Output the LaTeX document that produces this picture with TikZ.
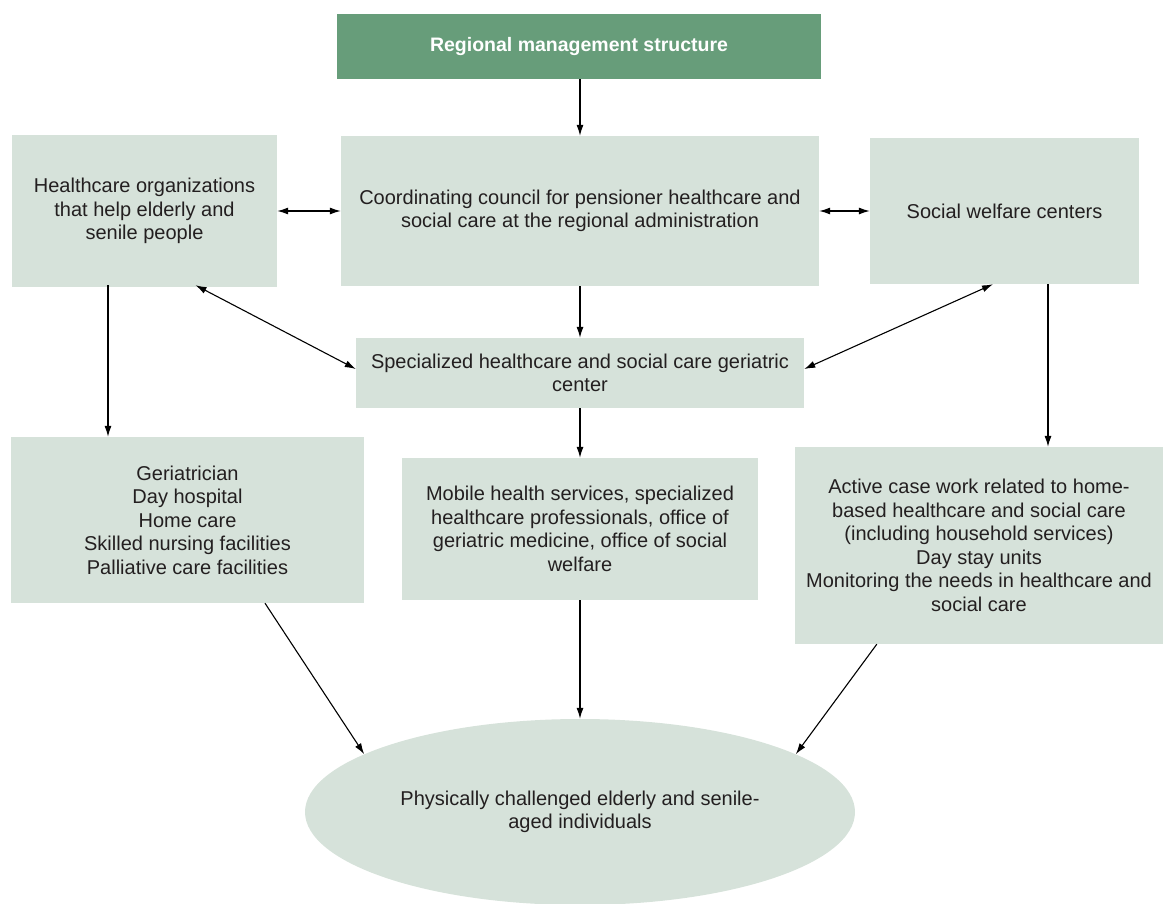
\documentclass[tikz,border=0pt]{standalone}
\usepackage{fontspec}
\setmainfont{Liberation Sans}
\usetikzlibrary{shapes.geometric, arrows.meta, calc}
\definecolor{headgreen}{RGB}{103,157,122}
\definecolor{boxgreen}{RGB}{214,226,218}
\definecolor{inkgray}{RGB}{35,31,32}
\begin{document}
\begin{tikzpicture}[x=1pt, y=-1pt, >={Latex[length=11pt, width=7pt]}]
    \tikzstyle{head} = [rectangle, minimum width=484, minimum height=65, inner sep=0pt, fill=headgreen, text=white, font=\bfseries\fontsize{19.5}{23}\selectfont]
    \tikzstyle{unit} = [rectangle, inner sep=0pt, fill=boxgreen, text=inkgray, align=center, font=\fontsize{20}{23.5}\selectfont]
    \tikzstyle{people} = [ellipse, inner sep=0pt, minimum width=550, minimum height=186, fill=boxgreen, text=inkgray, align=center, font=\fontsize{20}{23.5}\selectfont]
    \tikzstyle{link} = [line width=1.1pt, draw=black]

    \useasboundingbox (0,0) rectangle (1164,903);

    % Management level
    \node [head] (head) at (579,46.5) {Regional management structure};
    \node [unit, minimum width=478, minimum height=150] (council) at (580,211) {Coordinating council for pensioner healthcare and\\social care at the regional administration};
    \node [unit, minimum width=265, minimum height=152] (hospitals) at (144.5,211) {Healthcare organizations\\that help elderly and\\senile people};
    \node [unit, minimum width=269, minimum height=146] (welfare) at (1004.5,211) {Social welfare centers};

    % Geriatric center
    \node [unit, minimum width=448, minimum height=70] (geriatric) at (580,373) {Specialized healthcare and social care geriatric\\center};

    % Services
    \node [unit, minimum width=353, minimum height=166] (services) at (187.5,520) {Geriatrician\\Day hospital\\Home care\\Skilled nursing facilities\\Palliative care facilities};
    \node [unit, minimum width=356, minimum height=142] (mobile) at (580,529) {Mobile health services, specialized\\healthcare professionals, office of\\geriatric medicine, office of social\\welfare};
    \node [unit, minimum width=368, minimum height=197] (casework) at (979,545.5) {Active case work related to home-\\based healthcare and social care\\(including household services)\\Day stay units\\Monitoring the needs in healthcare and\\social care};

    % Target group
    \node [people] (patients) at (580,812) {Physically challenged elderly and senile-\\aged individuals};

    % Connections
    \draw [link, ->] ([xshift=1pt]head.south) -- ([xshift=1pt]head.south |- council.north);
    \draw [link, <->] (hospitals.east) -- (council.west);
    \draw [link, <->] (council.east) -- (welfare.west);
    \draw [link, ->] (council.south) -- (geriatric.north);
    \draw [link, <->] ([xshift=51pt, yshift=2pt]hospitals.south) -- ([yshift=4pt]geriatric.west);
    \draw [link, <->] ([xshift=-11.5pt]welfare.south) -- ([yshift=4pt]geriatric.east);

    \draw [link, ->] ([xshift=-36.5pt, yshift=2pt]hospitals.south) -- ([xshift=-36.5pt]hospitals.south |- services.north);
    \draw [link, ->] (geriatric.south) -- (mobile.north);
    \draw [link, ->] ([xshift=43.5pt]welfare.south) -- ([xshift=43.5pt]welfare.south |- casework.north);

    \draw [link, ->] ([xshift=77.5pt]services.south) -- (patients.165);
    \draw [link, ->] (mobile.south) -- (patients.north);
    \draw [link, ->] ([xshift=82pt]casework.south west) -- (patients.15);
\end{tikzpicture}
\end{document}
